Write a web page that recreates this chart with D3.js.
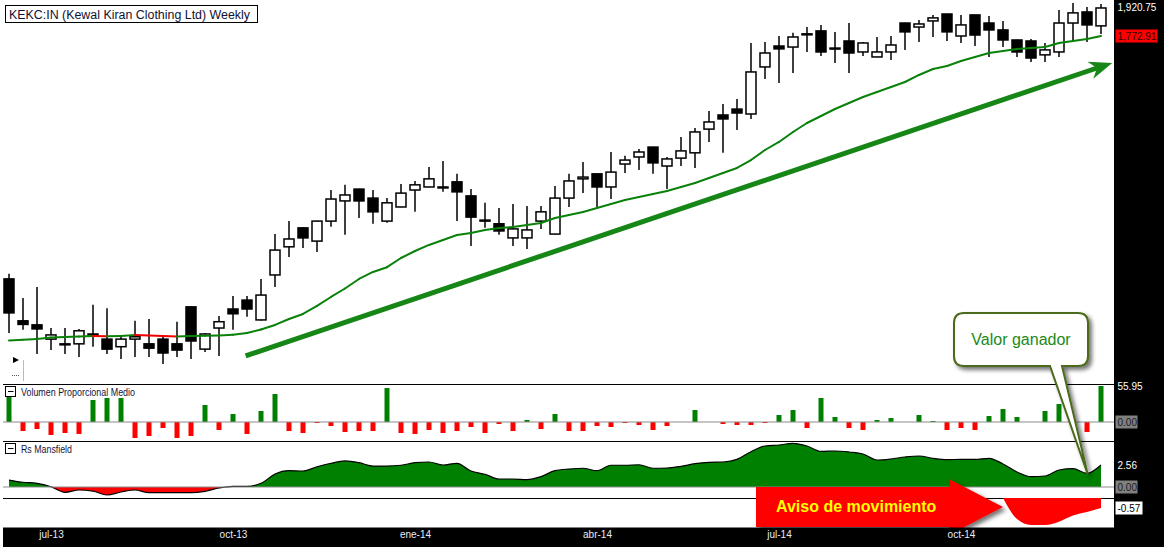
<!DOCTYPE html>
<meta charset="utf-8">
<style>

body {
  margin: 0;
  background: #fff;
}

svg {
  display: block;
  font-family: "Liberation Sans", Arial, sans-serif;
}

.pane-label {
  font-size: 10px;
  fill: #14143c;
}

.scale-label {
  font-size: 10px;
}

</style>
<body>
<script src="https://d3js.org/d3.v7.min.js"></script>
<script>

// weekly candles, KEKC:IN
var opens = [886,786,777,746,735,736,757,746,730,746,
  736,746,736,818,725,770,813,834,788,896,
  971,1025,987,1045,1107,1145,1116,1045,1088,1142,
  1152,1152,1169,1123,1048,1037,996,996,1045,1007,
  1116,1179,1196,1152,1230,1255,1291,1223,1251,1270,
  1359,1415,1439,1419,1623,1723,1718,1783,1799,1713,
  1748,1694,1670,1694,1840,1819,1851,1888,1773,1883,
  1840,1804,1753,1748,1680,1694,1840,1899,1825];

var highs = [899,839,866,770,770,768,823,815,755,786,
  790,751,784,819,759,797,844,844,886,1007,
  1045,1026,1046,1142,1159,1146,1142,1116,1162,1172,
  1220,1241,1196,1145,1101,1085,1097,1091,1091,1155,
  1196,1237,1197,1273,1259,1284,1292,1255,1329,1363,
  1431,1460,1481,1738,1743,1773,1789,1819,1830,1794,
  1840,1743,1768,1773,1841,1856,1883,1889,1883,1884,
  1877,1851,1754,1758,1738,1910,1948,1926,1943];

var lows = [759,766,715,723,715,709,730,715,705,709,
  709,695,709,705,719,711,766,795,787,866,
  943,968,957,1028,1005,1054,1037,1040,1087,1073,
  1151,1136,1045,973,1025,1005,973,965,1022,1006,
  1088,1132,1088,1113,1199,1209,1196,1145,1223,1216,
  1310,1270,1356,1399,1568,1550,1595,1694,1675,1642,
  1595,1675,1669,1656,1704,1743,1768,1748,1738,1723,
  1670,1718,1670,1646,1646,1670,1743,1743,1783];

var closes = [804,778,768,755,736,764,755,725,746,751,
  727,717,723,742,757,784,802,813,846,962,
  993,996,1045,1113,1126,1107,1073,1101,1132,1159,
  1179,1152,1136,1057,1045,1016,1022,1019,1073,1116,
  1172,1185,1152,1202,1244,1273,1234,1248,1277,1348,
  1387,1399,1423,1600,1689,1709,1768,1784,1694,1712,
  1689,1738,1694,1728,1794,1835,1867,1794,1830,1778,
  1804,1753,1694,1665,1704,1840,1894,1830,1920.75];

// moving average drawn over the candles
var movingAvg = [743.1,744.8,746.3,749.5,750.6,751.4,752.7,752.1,752.7,754.9,
  753.8,752.7,751.6,752.7,753.2,753.8,755.5,759.2,766.8,776.8,
  790.2,801.6,820.1,841.4,862.0,885.8,903.7,916.1,940.5,959.5,
  976.2,990.1,1004.5,1010.2,1018.8,1024.7,1027.6,1033.6,1039.5,1054.4,
  1063.5,1072.6,1084.9,1097.4,1109.9,1119.6,1129.2,1138.9,1152.0,1165.3,
  1182.0,1199.0,1216.2,1244.2,1280.3,1310.0,1347.9,1383.0,1410.9,1439.4,
  1464.3,1489.6,1511.0,1532.8,1554.8,1586.3,1613.6,1627.5,1650.8,1669.9,
  1689.1,1698.7,1708.5,1713.4,1718.3,1738.1,1748.0,1758.0,1772.91];

// Volumen Proporcional Medio
var volumen = [39.3,-14.0,-10.9,-20.2,-17.1,-18.6,34.2,37.3,37.3,-24.9,
  -21.8,-9.3,-24.9,-21.8,26.4,-12.4,12.4,-18.6,17.1,43.5,
  -14.0,-17.1,-1.6,-6.2,-15.5,-14.0,-14.0,52.8,-17.1,-18.6,
  -12.4,-17.1,-14.0,-7.8,-17.1,-3.1,-14.0,3.1,-10.9,12.4,
  -14.0,-14.0,-6.2,-7.8,-1.6,-4.7,-12.4,-6.2,0,18.6,
  0,-3.1,-4.7,-4.7,-1.6,10.9,18.6,-9.3,37.3,7.8,
  -9.3,-12.4,3.1,6.2,0,10.9,1.6,-12.4,-9.3,-12.4,
  9.3,20.2,7.8,0,17.1,28.0,0,-15.5,55.95];

// Rs Mansfield
var rsMansfield = [0.81,0.55,0.43,0.03,-0.62,-0.35,-0.47,-0.93,-0.58,-0.35,
  -0.66,-0.66,-0.66,-0.66,-0.50,-0.12,0.08,0.08,0.43,1.51,
  1.90,1.86,2.36,2.76,3.03,2.83,2.44,2.44,2.53,2.83,
  2.91,2.56,2.76,1.86,1.48,0.93,0.93,0.85,1.20,1.90,
  2.09,2.18,1.90,2.53,2.53,2.59,2.18,2.21,2.41,2.71,
  2.87,2.91,3.22,4.11,4.77,4.89,5.08,4.77,4.15,4.19,
  4.07,3.84,3.14,3.26,3.49,3.61,3.34,3.18,3.22,3.22,
  3.34,2.68,1.75,1.20,1.28,1.98,2.13,1.59,2.56];

// the red "aviso" strip under the Rs pane
var avisoIndex = [71,72,73,74,75,76,77,78];
var avisoValues = [0,-1.20,-1.54,-1.54,-1.35,-1.00,-0.80,-0.57];

var tickIndex = [3,16,29,42,55,68];
var tickLabels = ["jul-13","oct-13","ene-14","abr-14","jul-14","oct-14"];

var width = 1164,
    height = 547,
    plotLeft = 3,
    plotRight = 1114;

var x = d3.scaleLinear().domain([0, 78]).range([9, 1101]);
var yPrice = d3.scaleLog().domain([660, 1965]).range([382, 0]);
var yVol = d3.scaleLinear().domain([0, 55.95]).range([422, 386]);
var yRs = d3.scaleLinear().domain([0, 2.56]).range([487, 465]);
var yAviso = d3.scaleLinear().domain([0, -0.57]).range([498, 508]);

var svg = d3.select("body").append("svg")
    .attr("width", width)
    .attr("height", height);

var defs = svg.append("defs");

defs.append("filter")
    .attr("id", "shadow")
    .attr("x", "-20%").attr("y", "-20%")
    .attr("width", "140%").attr("height", "140%")
  .append("feDropShadow")
    .attr("dx", 3).attr("dy", 3)
    .attr("stdDeviation", 2)
    .attr("flood-color", "#000")
    .attr("flood-opacity", 0.55);

defs.append("clipPath").attr("id", "rs-up")
  .append("rect")
    .attr("x", plotLeft).attr("y", 441)
    .attr("width", plotRight - plotLeft).attr("height", yRs(0) - 441);

defs.append("clipPath").attr("id", "rs-down")
  .append("rect")
    .attr("x", plotLeft).attr("y", yRs(0))
    .attr("width", plotRight - plotLeft).attr("height", 498 - yRs(0));

var bars = d3.range(closes.length).map(function(i) {
  return { i: i, o: opens[i], h: highs[i], l: lows[i], c: closes[i] };
});

// ---- price pane

svg.append("rect")
    .attr("x", 5.5).attr("y", 5.5)
    .attr("width", 252).attr("height", 17)
    .attr("fill", "#fff")
    .attr("stroke", "#000");

svg.append("text")
    .attr("x", 9).attr("y", 18.5)
    .attr("font-size", 12)
    .attr("textLength", 241)
    .attr("lengthAdjust", "spacingAndGlyphs")
    .attr("fill", "#101030")
    .text("KEKC:IN (Kewal Kiran Clothing Ltd) Weekly");

var candle = svg.append("g").selectAll("g")
    .data(bars)
  .enter().append("g");

candle.append("line")
    .attr("x1", function(d) { return x(d.i); })
    .attr("x2", function(d) { return x(d.i); })
    .attr("y1", function(d) { return yPrice(d.h); })
    .attr("y2", function(d) { return yPrice(d.l); })
    .attr("stroke", "#000")
    .attr("stroke-width", 1.5);

candle.append("rect")
    .attr("x", function(d) { return x(d.i) - 5; })
    .attr("width", 10)
    .attr("y", function(d) { return yPrice(Math.max(d.o, d.c)); })
    .attr("height", function(d) {
      return Math.max(1, yPrice(Math.min(d.o, d.c)) - yPrice(Math.max(d.o, d.c)));
    })
    .attr("fill", function(d) { return d.c >= d.o ? "#fff" : "#000"; })
    .attr("stroke", "#000")
    .attr("stroke-width", 1.5);

// average, red where it turns down
svg.append("g").selectAll("line")
    .data(d3.pairs(d3.range(movingAvg.length)))
  .enter().append("line")
    .attr("x1", function(d) { return x(d[0]); })
    .attr("x2", function(d) { return x(d[1]); })
    .attr("y1", function(d) { return yPrice(movingAvg[d[0]]); })
    .attr("y2", function(d) { return yPrice(movingAvg[d[1]]); })
    .attr("stroke", function(d) { return movingAvg[d[1]] < movingAvg[d[0]] ? "#f00000" : "#0a820a"; })
    .attr("stroke-width", 2)
    .attr("stroke-linecap", "round");

// trend arrow
var t0 = [x(16.9), yPrice(711)],
    t1 = [x(78.8), yPrice(1642)];
var ux = t1[0] - t0[0], uy = t1[1] - t0[1], len = Math.sqrt(ux * ux + uy * uy);
ux /= len; uy /= len;
var nx = -uy, ny = ux;
var notch = [t1[0] - 16 * ux, t1[1] - 16 * uy],
    base = [t1[0] - 23 * ux, t1[1] - 23 * uy];

svg.append("line")
    .attr("x1", t0[0]).attr("y1", t0[1])
    .attr("x2", notch[0]).attr("y2", notch[1])
    .attr("stroke", "#168616")
    .attr("stroke-width", 5);

svg.append("path")
    .attr("d", "M" + t1 + "L" + [base[0] + 9 * nx, base[1] + 9 * ny] +
        "L" + notch + "L" + [base[0] - 9 * nx, base[1] - 9 * ny] + "Z")
    .attr("fill", "#168616");

// small play marker
svg.append("path")
    .attr("d", "M13,357L19,360L13,363Z")
    .attr("fill", "#000");
svg.append("line")
    .attr("x1", 12).attr("x2", 20).attr("y1", 375.5).attr("y2", 375.5)
    .attr("stroke", "#555").attr("stroke-dasharray", "1,1");
svg.append("line")
    .attr("x1", 23.5).attr("x2", 23.5).attr("y1", 360).attr("y2", 381)
    .attr("stroke", "#bbb");

// ---- pane separators and zero lines

svg.append("g").selectAll("line")
    .data([384.5, 441.5, 498.5])
  .enter().append("line")
    .attr("x1", plotLeft).attr("x2", plotRight)
    .attr("y1", function(d) { return d; }).attr("y2", function(d) { return d; })
    .attr("stroke", "#000");

// ---- volume pane

svg.append("g").selectAll("rect")
    .data(volumen)
  .enter().append("rect")
    .attr("x", function(d, i) { return x(i) - 2.5; })
    .attr("width", 5)
    .attr("y", function(d) { return yVol(Math.max(d, 0)); })
    .attr("height", function(d) { return Math.abs(yVol(d) - yVol(0)); })
    .attr("fill", function(d) { return d >= 0 ? "#008000" : "#ff0000"; });

svg.append("line")
    .attr("x1", plotLeft).attr("x2", plotRight)
    .attr("y1", yVol(0)).attr("y2", yVol(0))
    .attr("stroke", "#8c8c8c")
    .attr("stroke-width", 1.2);

// ---- Rs Mansfield pane

var rsArea = d3.area()
    .x(function(d, i) { return x(i); })
    .y0(yRs(0))
    .y1(function(d) { return yRs(d); })
    .curve(d3.curveMonotoneX);

var rsLine = d3.line()
    .x(function(d, i) { return x(i); })
    .y(function(d) { return yRs(d); })
    .curve(d3.curveMonotoneX);

svg.append("path")
    .datum(rsMansfield)
    .attr("clip-path", "url(#rs-up)")
    .attr("d", rsArea)
    .attr("fill", "#008000");

svg.append("path")
    .datum(rsMansfield)
    .attr("clip-path", "url(#rs-down)")
    .attr("d", rsArea)
    .attr("fill", "#ff0000");

svg.append("path")
    .datum(rsMansfield)
    .attr("d", rsLine)
    .attr("fill", "none")
    .attr("stroke", "#000")
    .attr("stroke-width", 1.2);

svg.append("line")
    .attr("x1", plotLeft).attr("x2", plotRight)
    .attr("y1", yRs(0)).attr("y2", yRs(0))
    .attr("stroke", "#8c8c8c")
    .attr("stroke-width", 1.2);

// pane titles
var paneTitles = svg.append("g").selectAll("g")
    .data([{ y: 386.5, name: "Volumen Proporcional Medio", w: 114 },
           { y: 443.5, name: "Rs Mansfield", w: 51 }])
  .enter().append("g");

paneTitles.append("rect")
    .attr("x", 5.5).attr("y", function(d) { return d.y; })
    .attr("width", 10).attr("height", 10)
    .attr("fill", "#fff").attr("stroke", "#000");

paneTitles.append("line")
    .attr("x1", 8).attr("x2", 13.5)
    .attr("y1", function(d) { return d.y + 5; })
    .attr("y2", function(d) { return d.y + 5; })
    .attr("stroke", "#000");

paneTitles.append("text")
    .attr("class", "pane-label")
    .attr("x", 21)
    .attr("y", function(d) { return d.y + 9; })
    .attr("textLength", function(d) { return d.w; })
    .attr("lengthAdjust", "spacingAndGlyphs")
    .text(function(d) { return d.name; });

// ---- red aviso strip and arrow

svg.append("path")
    .datum(avisoValues)
    .attr("d", d3.area()
        .x(function(d, i) { return x(avisoIndex[i]); })
        .y0(yAviso(0))
        .y1(function(d) { return yAviso(d); })
        .curve(d3.curveMonotoneX))
    .attr("fill", "#ff0000");

svg.append("path")
    .attr("d", "M756,487H949V479L1003,507L949,535V527H756Z")
    .attr("fill", "#ff0000")
    .attr("filter", "url(#shadow)");

svg.append("text")
    .attr("x", 776).attr("y", 512)
    .attr("font-size", 16)
    .attr("font-weight", "bold")
    .attr("fill", "#ffff00")
    .text("Aviso de movimiento");

// ---- callout

var tip = [x(77.05), yRs(1.5)];

svg.append("path")
    .attr("d", "M964,313H1078Q1088,313 1088,323V356Q1088,366 1078,366H1062L" + tip +
        "L1050,366H964Q954,366 954,356V323Q954,313 964,313Z")
    .attr("fill", "#fff")
    .attr("stroke", "#4b6a1c")
    .attr("stroke-width", 2)
    .attr("filter", "url(#shadow)");

svg.append("text")
    .attr("x", 1021).attr("y", 345)
    .attr("text-anchor", "middle")
    .attr("font-size", 16)
    .attr("fill", "#1a8a1a")
    .text("Valor ganador");

// ---- black frame: right scale and time axis

svg.append("rect")
    .attr("x", plotRight).attr("y", 0)
    .attr("width", width - plotRight).attr("height", height)
    .attr("fill", "#000");

svg.append("rect")
    .attr("x", plotLeft).attr("y", 527.5)
    .attr("width", width - plotLeft).attr("height", height - 527.5)
    .attr("fill", "#000");

var xAxis = d3.axisBottom(x)
    .tickValues(tickIndex)
    .tickFormat(function(d, i) { return tickLabels[i]; })
    .tickSize(0)
    .tickPadding(0);

svg.append("g")
    .attr("transform", "translate(0,531)")
    .call(xAxis)
    .call(function(g) { g.select(".domain").remove(); })
    .attr("font-family", "'Liberation Sans', Arial, sans-serif")
    .attr("font-size", 10)
  .selectAll("text")
    .attr("fill", "#e6ecf8");

// right-hand value tags
var tags = [
  { y: yPrice(1920.75), text: "1,920.75", bg: null, fg: "#fff", w: 0 },
  { y: yPrice(1772.91), text: "1,772.91", bg: "#ff0000", fg: "#300000", w: 42 },
  { y: yVol(55.95), text: "55.95", bg: null, fg: "#fff", w: 0 },
  { y: yVol(0), text: "0.00", bg: "#808080", fg: "#1c1c1c", w: 22 },
  { y: yRs(2.56), text: "2.56", bg: null, fg: "#fff", w: 0 },
  { y: yRs(0), text: "0.00", bg: "#808080", fg: "#1c1c1c", w: 22 },
  { y: yAviso(-0.57), text: "-0.57", bg: "#fff", fg: "#000", w: 27 }
];

var tag = svg.append("g").selectAll("g")
    .data(tags)
  .enter().append("g");

tag.filter(function(d) { return d.bg; }).append("rect")
    .attr("x", 1115.5)
    .attr("y", function(d) { return d.y - 6.5; })
    .attr("width", function(d) { return d.w; })
    .attr("height", 13)
    .attr("fill", function(d) { return d.bg; });

tag.append("text")
    .attr("class", "scale-label")
    .attr("x", 1117.5)
    .attr("y", function(d) { return d.y + 3.5; })
    .attr("fill", function(d) { return d.fg; })
    .text(function(d) { return d.text; });

</script>
</body>
